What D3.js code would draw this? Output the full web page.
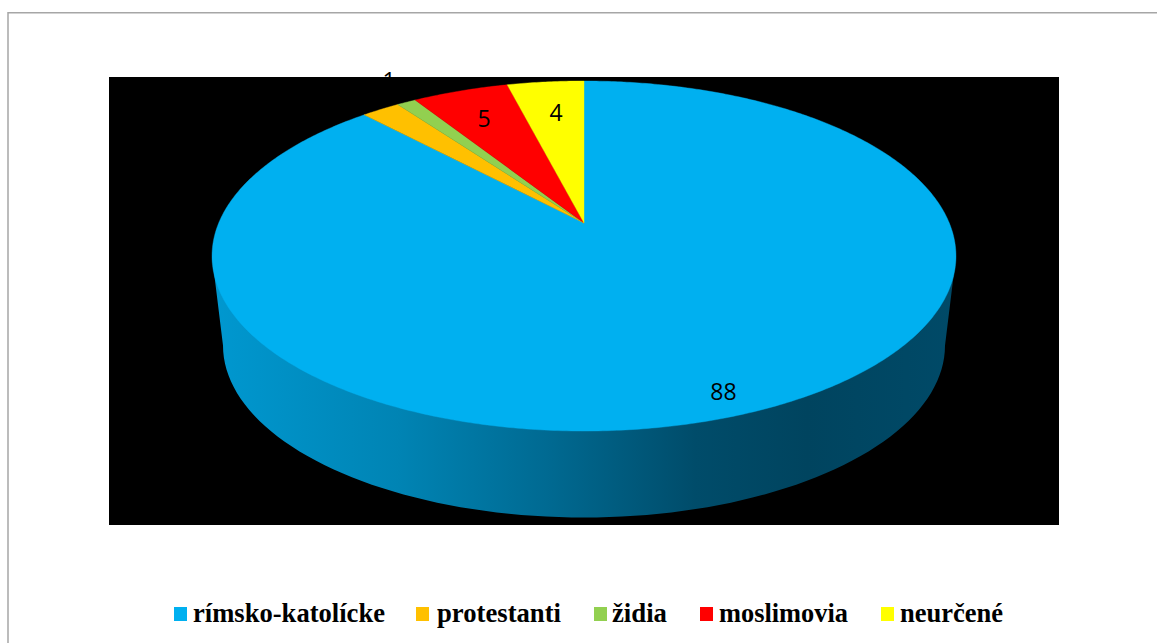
<!DOCTYPE html>
<html><head><meta charset="utf-8">
<script src="https://cdnjs.cloudflare.com/ajax/libs/d3/7.8.5/d3.min.js"></script>
<style>html,body{margin:0;padding:0;background:#fff}svg{display:block}</style></head>
<body><svg id="c" width="1157" height="643"></svg>
<script>
const categories = ["rímsko-katolícke","protestanti","židia","moslimovia","neurčené"];
const values = [88,2,1,5,4];
const colors = ["#00B0F0","#FFC000","#92D050","#FF0000","#FFFF00"];
const wallStops = [[0,"#0098D0"],[0.25,"#0084B4"],[0.45,"#006A92"],[0.65,"#004C6A"],[0.8,"#00445F"],[1,"#004A68"]];
const swatchX = [174,416,594,700,881];
const legendTextX = [193,437,612,719,900];
const legendTextW = [192,124,55,129,103];
const labelPos = [[723.5,400],[389,89],[484,126.5],[556,120.5]];
const labelVals = [88,1,5,4];

const svg = d3.select("#c");
// frame
svg.append("path").attr("d","M1157,12.75H8V643").attr("fill","none").attr("stroke","#a6a6a6").attr("stroke-width",1.5);
// plot area
svg.append("rect").attr("x",109).attr("y",77).attr("width",950).attr("height",448).attr("fill","#000");

// perspective projection of the pie disc
const ax=584, ay=223, a=365.3, b=168.8, k=0.1886;
const project = t => { const x=Math.sin(t), y=Math.cos(t), d=1+k*y; return [ax+a*x/d, ay-b*y/d]; };
const pie = d3.pie().sort(null).value(d=>d)(values);

const defs = svg.append("defs");
const grad = defs.append("linearGradient").attr("id","wall").attr("gradientUnits","userSpaceOnUse")
  .attr("x1",212).attr("x2",956).attr("y1",0).attr("y2",0);
wallStops.forEach(s=>grad.append("stop").attr("offset",s[0]).attr("stop-color",s[1]));

// side wall
const line = d3.line();
const bx=584, by=345.5, brx=361, bry=172;
const lowerArc = d3.range(0,181,2).map(d=>{const r=d*Math.PI/180; return [bx+brx*Math.cos(r), by+bry*Math.sin(r)];});
const wall = [[956,256]].concat(lowerArc,[[212,256]]);
svg.append("path").attr("d",line(wall)+"Z").attr("fill","url(#wall)");

// top slices
pie.forEach((p,i)=>{
  const n=Math.max(4,Math.ceil((p.endAngle-p.startAngle)/0.01));
  const pts=[[ax,ay]].concat(d3.range(n+1).map(j=>project(p.startAngle+(p.endAngle-p.startAngle)*j/n)));
  svg.append("path").attr("d",line(pts)+"Z").attr("fill",colors[i]).attr("stroke",colors[i]).attr("stroke-width",0.4);
});

// data labels
labelVals.forEach((v,i)=>{
  svg.append("text").attr("x",labelPos[i][0]).attr("y",labelPos[i][1]).attr("text-anchor","middle")
    .attr("font-family","'Open Sans','DejaVu Sans',sans-serif").attr("font-size",23).attr("fill","#000").text(v);
});

// legend
categories.forEach((c,i)=>{
  svg.append("rect").attr("x",swatchX[i]).attr("y",607).attr("width",13).attr("height",14).attr("fill",colors[i]);
  svg.append("text").attr("x",legendTextX[i]).attr("y",621.5)
    .attr("textLength",legendTextW[i]).attr("lengthAdjust","spacingAndGlyphs")
    .attr("font-family","'Liberation Serif',serif").attr("font-weight","bold").attr("font-size",26.5)
    .attr("fill","#000").text(c);
});
</script></body></html>
